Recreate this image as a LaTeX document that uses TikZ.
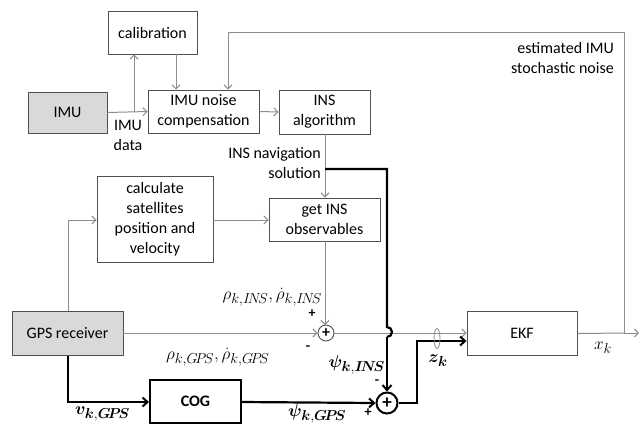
\documentclass[tikz,border=0pt]{standalone}
\usepackage{fontspec}
\setmainfont{Carlito}
\usepackage{amsmath}
\usepackage{bm}
\usetikzlibrary{arrows.meta}
\DeclareMathSizes{18}{18}{13.5}{10}

\definecolor{thin}{HTML}{8C8C8C}
\definecolor{frame}{HTML}{505050}
\definecolor{shade}{HTML}{D9D9D9}

\tikzset{
  blk/.style={draw=frame, line width=0.9pt, rectangle, inner sep=0pt, align=center,
    font=\fontsize{16}{20}\selectfont},
  grayblk/.style={blk, fill=shade},
  boldblk/.style={draw=black, line width=2pt, rectangle, inner sep=0pt, align=center,
    font=\fontsize{16}{20}\selectfont\bfseries},
  flow/.style={draw=thin, line width=1pt, -{Straight Barb[length=4pt,width=8pt]}},
  plain/.style={draw=thin, line width=1pt},
  bold/.style={draw=black, line width=2.2pt, -{Straight Barb[length=5pt,width=9pt,line width=2pt]}},
  boldplain/.style={draw=black, line width=2.2pt},
  lbl/.style={font=\fontsize{16}{20}\selectfont, inner sep=0pt, align=center},
  mlbl/.style={font=\fontsize{18}{18}\selectfont, inner sep=0pt},
  sign/.style={font=\fontsize{14}{14}\selectfont\bfseries, inner sep=0pt}
}

\begin{document}
\begin{tikzpicture}[x=1pt,y=-1pt]
\useasboundingbox (0,0) rectangle (639,424);

% blocks
\node[blk, minimum width=89pt, minimum height=43pt] (cal) at (152.5,32.5) {calibration};
\node[grayblk, minimum width=79pt, minimum height=41pt] (imu) at (67.5,112.5) {IMU};
\node[blk, minimum width=111pt, minimum height=43pt] (comp) at (203.5,111.5) {IMU noise\\compensation};
\node[blk, minimum width=91pt, minimum height=44pt] (ins) at (324.5,112) {INS\\algorithm};
\node[blk, minimum width=116pt, minimum height=86pt] (calc) at (155,219) {calculate\\satellites\\position and\\velocity};
\node[blk, minimum width=111pt, minimum height=43pt] (getins) at (324.5,219.5) {get INS\\observables};
\node[grayblk, minimum width=111pt, minimum height=44pt] (gps) at (67.5,333.5) {GPS receiver};
\node[blk, minimum width=110pt, minimum height=44pt] (ekf) at (522,333.5) {EKF};
\node[boldblk, minimum width=91pt, minimum height=43pt] (cog) at (195.5,401) {COG};

% summing junctions
\node[draw=frame, line width=0.9pt, circle, minimum size=16pt, inner sep=0pt,
      font=\fontsize{16}{16}\selectfont\bfseries] (sum1) at (326,333) {+};
\node[draw=black, line width=2pt, circle, minimum size=21pt, inner sep=0pt,
      font=\fontsize{19}{19}\selectfont\bfseries] (sum2) at (387,403) {+};

% helper points
\coordinate (imuB) at (134,112);
\coordinate (xk) at (624,333);
\coordinate (out) at (639,333);
\coordinate (solB) at (325,169);

% IMU chain
\draw[flow] (imu.east) -- (comp.west);
\draw[flow] (imuB) -- (imuB |- cal.south);
\draw[flow] (cal.south -| 176,0) -- (comp.north -| 176,0);
\draw[flow] (comp.east) -- (ins.west);

% estimated noise feedback
\draw[plain] (ekf.east) -- (xk);
\draw[flow] (xk) -- (out);
\draw[flow] (xk) -- (624,32) -- (228,32) -- (comp.north -| 228,0);

% INS to observables
\draw[flow] (ins.south -| 325,0) -- (getins.north -| 325,0);
\draw[flow] (calc.east |- 0,220) -- (getins.west |- 0,220);
\draw[flow] (gps.north -| 68,0) -- (68,220) -- (calc.west |- 0,220);

% pseudorange difference
\draw[flow] (gps.east |- sum1) -- (sum1.west);
\draw[flow] (getins.south -| 325,0) -- (325,325);
\draw[flow] (sum1.east) -- (ekf.west |- sum1);

% heading path
\draw[boldplain] (solB) -- (387,169) -- (387,327)
  arc[start angle=90, end angle=-90, radius=5pt];
\draw[bold] (387,337) -- (sum2.north);
\draw[bold] (gps.south -| 68,0) -- (68,402) -- (cog.west |- 0,402);
\draw[bold] (cog.east |- 0,402) -- (sum2.west);
\draw[bold] (sum2.east) -- (417,403) -- (417,341) -- (ekf.west |- 0,341);

% measurement bundle
\draw[draw=thin, line width=0.8pt] (437,338.5) ellipse[x radius=3pt, y radius=10pt];

% labels
\node[lbl] (imudata) at (128,135) {IMU\\data};
\node[lbl, align=right, anchor=north east] (sol) at (321,147) {INS navigation\\solution};
\node[lbl, align=right, anchor=north east] (noise) at (614,42) {estimated IMU\\stochastic noise};
\node[mlbl, anchor=east] (rhoins) at (322,297) {$\rho_{k,I\!N\!S},\dot{\rho}_{k,I\!N\!S}$};
\node[mlbl, anchor=west] (rhogps) at (166,357) {$\rho_{k,G\!P\!S},\dot{\rho}_{k,G\!P\!S}$};
\node[sign] (p1) at (312,314) {+};
\node[sign] (m1) at (308,348) {-};
\node[mlbl, anchor=east] (psiins) at (385,365) {$\bm{\psi}_{\bm{k},\bm{I\!N\!S}}$};
\node[sign] (m2) at (377,382) {-};
\node[sign] (p2) at (368,413) {+};
\node[mlbl, anchor=west] (psigps) at (288,414) {$\bm{\psi}_{\bm{k},\bm{G\!P\!S}}$};
\node[mlbl, anchor=west] (vgps) at (75,414) {$\bm{v}_{\bm{k},\bm{G\!P\!S}}$};
\node[mlbl] (zk) at (438,361) {$\bm{z}_{\bm{k}}$};
\node[mlbl] (xklbl) at (603,348) {$x_k$};
\end{tikzpicture}
\end{document}
